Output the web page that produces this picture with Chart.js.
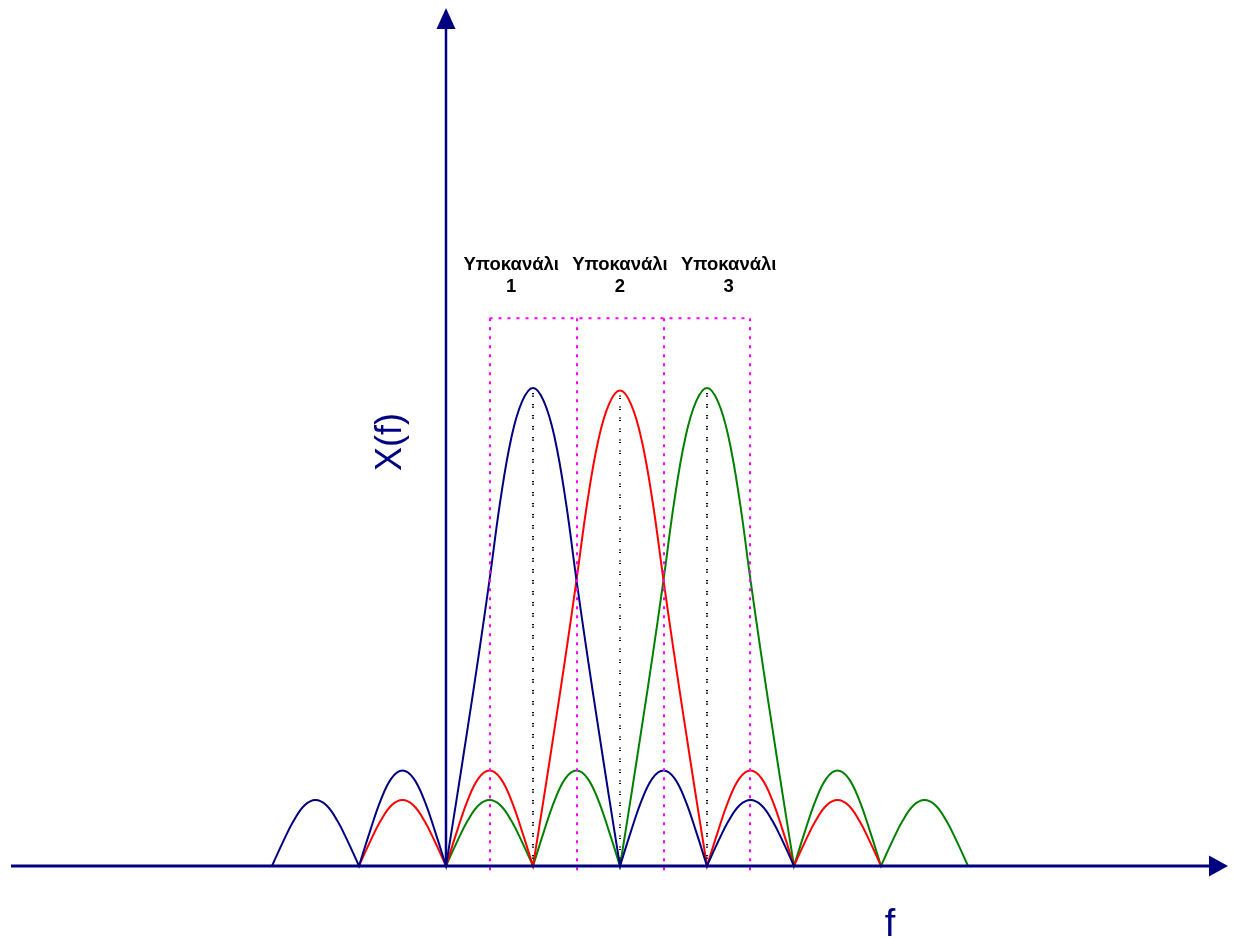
<!DOCTYPE html>
<html>
<head>
<meta charset="utf-8">
<title>X(f)</title>
<script src="https://cdn.jsdelivr.net/npm/chart.js@4.4.0/dist/chart.umd.min.js"></script>
<style>
  html, body { margin: 0; padding: 0; background: #fff; }
  canvas { display: block; }
</style>
</head>
<body>
<canvas id="spectrum" width="1233" height="938"></canvas>
<script>
// spectra of the three subchannels (frequency in subchannel spacings, amplitude normalised)
// zeros are listed twice so neighbouring lobes meet in a sharp point
var blueFreq = [-2, -1.875, -1.75, -1.625, -1.5, -1.375, -1.25, -1.125, -1,
    -1, -0.875, -0.75, -0.625, -0.5, -0.375, -0.25, -0.125, 0,
    0, 0.125, 0.25, 0.375, 0.5, 0.625, 0.75, 0.875, 1, 1.125, 1.25, 1.375, 1.5, 1.625, 1.75, 1.875, 2,
    2, 2.125, 2.25, 2.375, 2.5, 2.625, 2.75, 2.875, 3,
    3, 3.125, 3.25, 3.375, 3.5, 3.625, 3.75, 3.875, 4];
var blueAmp = [0, 0.05, 0.095, 0.127, 0.138, 0.127, 0.095, 0.05, 0,
    0, 0.072, 0.138, 0.184, 0.2, 0.184, 0.138, 0.072, 0,
    0, 0.143, 0.29, 0.44, 0.598, 0.765, 0.895, 0.972, 1, 0.972, 0.895, 0.765, 0.598, 0.44, 0.29, 0.143, 0,
    0, 0.072, 0.138, 0.184, 0.2, 0.184, 0.138, 0.072, 0,
    0, 0.05, 0.095, 0.127, 0.138, 0.127, 0.095, 0.05, 0];

var redFreq = [-1, -0.875, -0.75, -0.625, -0.5, -0.375, -0.25, -0.125, 0,
    0, 0.125, 0.25, 0.375, 0.5, 0.625, 0.75, 0.875, 1,
    1, 1.125, 1.25, 1.375, 1.5, 1.625, 1.75, 1.875, 2, 2.125, 2.25, 2.375, 2.5, 2.625, 2.75, 2.875, 3,
    3, 3.125, 3.25, 3.375, 3.5, 3.625, 3.75, 3.875, 4,
    4, 4.125, 4.25, 4.375, 4.5, 4.625, 4.75, 4.875, 5];
var redAmp = [0, 0.05, 0.095, 0.127, 0.138, 0.127, 0.095, 0.05, 0,
    0, 0.072, 0.138, 0.184, 0.2, 0.184, 0.138, 0.072, 0,
    0, 0.143, 0.29, 0.44, 0.598, 0.762, 0.89, 0.967, 0.995, 0.967, 0.89, 0.762, 0.598, 0.44, 0.29, 0.143, 0,
    0, 0.072, 0.138, 0.184, 0.2, 0.184, 0.138, 0.072, 0,
    0, 0.05, 0.095, 0.127, 0.138, 0.127, 0.095, 0.05, 0];

var greenFreq = [0, 0.125, 0.25, 0.375, 0.5, 0.625, 0.75, 0.875, 1,
    1, 1.125, 1.25, 1.375, 1.5, 1.625, 1.75, 1.875, 2,
    2, 2.125, 2.25, 2.375, 2.5, 2.625, 2.75, 2.875, 3, 3.125, 3.25, 3.375, 3.5, 3.625, 3.75, 3.875, 4,
    4, 4.125, 4.25, 4.375, 4.5, 4.625, 4.75, 4.875, 5,
    5, 5.125, 5.25, 5.375, 5.5, 5.625, 5.75, 5.875, 6];
var greenAmp = [0, 0.05, 0.095, 0.127, 0.138, 0.127, 0.095, 0.05, 0,
    0, 0.072, 0.138, 0.184, 0.2, 0.184, 0.138, 0.072, 0,
    0, 0.143, 0.29, 0.44, 0.598, 0.765, 0.895, 0.972, 1, 0.972, 0.895, 0.765, 0.598, 0.44, 0.29, 0.143, 0,
    0, 0.072, 0.138, 0.184, 0.2, 0.184, 0.138, 0.072, 0,
    0, 0.05, 0.095, 0.127, 0.138, 0.127, 0.095, 0.05, 0];

// subchannel centres, band edges and captions
var channelCenters = [1, 2, 3];
var channelPeaks = [1, 0.995, 1];
var bandEdges = [0.5, 1.5, 2.5, 3.5];
var bandTop = 1.146;
var channelNames = ['Υποκανάλι', 'Υποκανάλι', 'Υποκανάλι'];
var channelNumbers = ['1', '2', '3'];
var captionFreq = [0.75, 2, 3.25];

var NAVY = '#000080';

function points(fs, as) {
    var out = [];
    for (var i = 0; i < fs.length; i++) out.push({x: fs[i], y: as[i]});
    return out;
}

// dotted guides, axes with arrows and the texts
var overlay = {
    id: 'overlay',
    afterDatasetsDraw: function(chart) {
        var ctx = chart.ctx;
        var sx = chart.scales.x, sy = chart.scales.y;
        var y0 = sy.getPixelForValue(0);
        var x0 = sx.getPixelForValue(0);
        ctx.save();

        // black dotted lines at each centre
        ctx.strokeStyle = '#000';
        ctx.lineWidth = 2;
        ctx.setLineDash([1.2, 1.3, 1.2, 7.3]);
        channelCenters.forEach(function(c, i) {
            var px = Math.round(sx.getPixelForValue(c));
            ctx.beginPath();
            ctx.moveTo(px, sy.getPixelForValue(channelPeaks[i]) + 5);
            ctx.lineTo(px, y0);
            ctx.stroke();
        });

        // magenta band boundaries
        ctx.strokeStyle = '#ff00ff';
        ctx.lineWidth = 2;
        ctx.setLineDash([3, 6]);
        var top = sy.getPixelForValue(bandTop);
        bandEdges.forEach(function(e) {
            var px = Math.round(sx.getPixelForValue(e));
            ctx.beginPath();
            ctx.moveTo(px, top);
            ctx.lineTo(px, y0 + 5);
            ctx.stroke();
        });
        ctx.beginPath();
        ctx.moveTo(sx.getPixelForValue(bandEdges[0]), top);
        ctx.lineTo(sx.getPixelForValue(bandEdges[bandEdges.length - 1]), top);
        ctx.stroke();
        ctx.setLineDash([]);

        // axes
        ctx.strokeStyle = NAVY;
        ctx.fillStyle = NAVY;
        ctx.lineWidth = 3;
        ctx.beginPath();
        ctx.moveTo(11, y0);
        ctx.lineTo(1212, y0);
        ctx.stroke();
        ctx.beginPath();
        ctx.moveTo(1228, y0);
        ctx.lineTo(1209, y0 - 10.5);
        ctx.lineTo(1209, y0 + 10.5);
        ctx.closePath();
        ctx.fill();

        ctx.lineWidth = 2.5;
        ctx.beginPath();
        ctx.moveTo(x0, y0);
        ctx.lineTo(x0, 26);
        ctx.stroke();
        ctx.beginPath();
        ctx.moveTo(x0, 8);
        ctx.lineTo(x0 - 9.5, 29);
        ctx.lineTo(x0 + 9.5, 29);
        ctx.closePath();
        ctx.fill();

        // axis titles
        ctx.textAlign = 'center';
        ctx.textBaseline = 'middle';
        ctx.font = '36px "Liberation Sans", Arial, sans-serif';
        ctx.save();
        ctx.translate(391, 442);
        ctx.rotate(-Math.PI / 2);
        ctx.fillText('X(f)', 0, 0);
        ctx.restore();
        ctx.font = '38px "Liberation Sans", Arial, sans-serif';
        ctx.textBaseline = 'alphabetic';
        ctx.fillText('f', 890, 936);

        // subchannel captions
        ctx.fillStyle = '#000';
        ctx.font = 'bold 18.5px "Liberation Sans", Arial, sans-serif';
        channelNames.forEach(function(name, i) {
            var px = sx.getPixelForValue(captionFreq[i]);
            ctx.fillText(name, px, 270);
            ctx.fillText(channelNumbers[i], px, 292);
        });

        ctx.restore();
    }
};

var chart = new Chart(document.getElementById('spectrum'), {
    type: 'line',
    data: {
        datasets: [
            { data: points(blueFreq, blueAmp), borderColor: NAVY },
            { data: points(redFreq, redAmp), borderColor: '#ff0000' },
            { data: points(greenFreq, greenAmp), borderColor: '#008000' }
        ]
    },
    options: {
        responsive: false,
        animation: false,
        devicePixelRatio: 1,
        layout: { padding: 0 },
        elements: {
            line: { borderWidth: 2, tension: 0.4, fill: false },
            point: { radius: 0, hoverRadius: 0 }
        },
        plugins: {
            legend: { display: false },
            tooltip: { enabled: false }
        },
        scales: {
            // 87 px per subchannel spacing, origin at x=446 / y=866
            x: { type: 'linear', display: false, min: -446 / 87, max: (1233 - 446) / 87 },
            y: { type: 'linear', display: false, min: -72 / 478, max: 866 / 478 }
        }
    },
    plugins: [overlay]
});
</script>
</body>
</html>
